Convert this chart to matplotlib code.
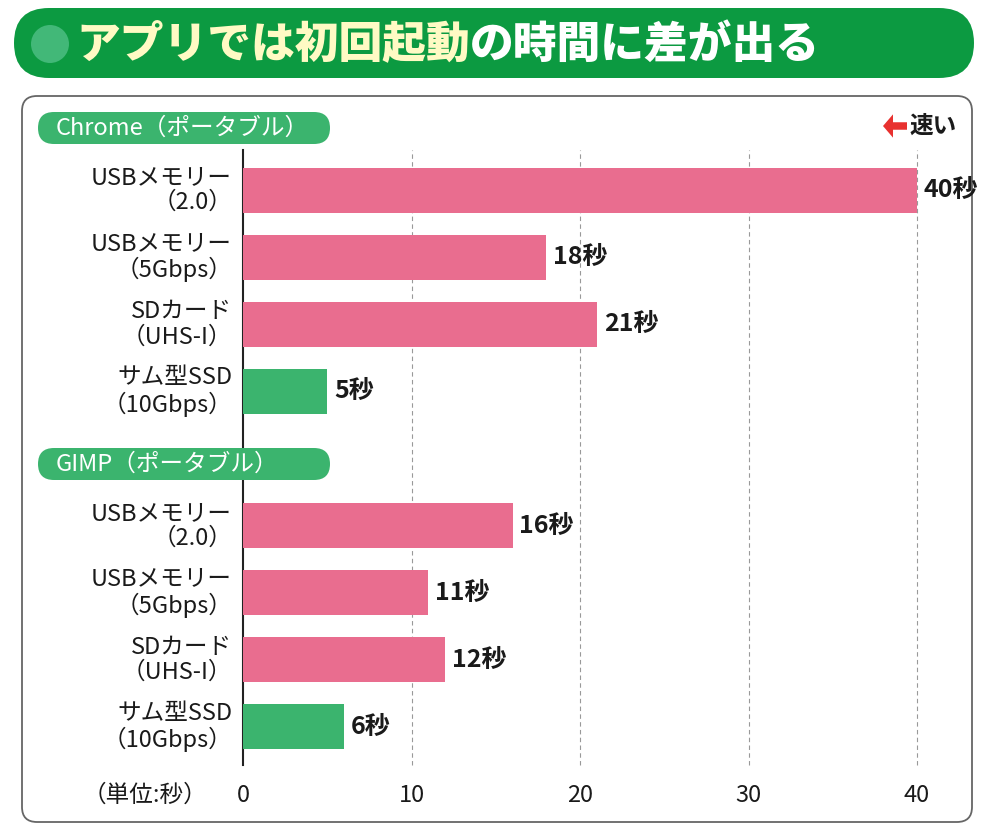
import numpy as np
import matplotlib.pyplot as plt
from matplotlib.patches import FancyBboxPatch, Ellipse, FancyArrow

plt.rcParams['font.family'] = ['Noto Sans CJK JP', 'DejaVu Sans']

# data
groups = ['Chrome（ポータブル）', 'GIMP（ポータブル）']
devices = ['USBメモリー\n（2.0）', 'USBメモリー\n（5Gbps）', 'SDカード\n（UHS-I）', 'サム型SSD\n（10Gbps）']
chrome_sec = [40, 18, 21, 5]
gimp_sec = [16, 11, 12, 6]
ticks = [0, 10, 20, 30, 40]

PINK = '#e96d8f'
GREEN = '#3bb46e'
BANNER = '#0c9a41'
colors = [PINK, PINK, PINK, GREEN]

W, H = 1000, 832
fig = plt.figure(figsize=(W / 100, H / 100), dpi=100)
fig.patch.set_facecolor('white')

def fx(px):
    return px / W

def fy(py):
    return 1 - py / H

# title banner
banner = FancyBboxPatch((fx(14), fy(78)), fx(960), 70 / H,
                        boxstyle='round,pad=0,rounding_size=0.035',
                        transform=fig.transFigure, facecolor=BANNER,
                        edgecolor='none', mutation_aspect=W / H, zorder=-2)
fig.patches.append(banner)
fig.patches.append(Ellipse((fx(50), fy(44)), fx(38), 38 / H, transform=fig.transFigure,
                           facecolor='#42b878', edgecolor='none', zorder=-1))
t1 = fig.text(fx(76), fy(44), 'アプリでは初回起動', color='#fffac4', fontsize=31.5,
              fontweight='heavy', va='center', ha='left')
fig.canvas.draw()
bb = t1.get_window_extent()
fig.text(bb.x1 / W, fy(44), 'の時間に差が出る', color='white', fontsize=31.5,
         fontweight='heavy', va='center', ha='left')

# outer panel
panel = FancyBboxPatch((fx(22), fy(822)), fx(950), 726 / H,
                       boxstyle='round,pad=0,rounding_size=0.015',
                       transform=fig.transFigure, facecolor='white',
                       edgecolor='#666666', linewidth=1.3, mutation_aspect=W / H,
                       zorder=-2)
fig.patches.append(panel)

# axes
ax = fig.add_axes([fx(243), fy(765), fx(917 - 243), (765 - 150) / H])
ax.set_facecolor('none')
vals = chrome_sec + gimp_sec
pos = [0, 1, 2, 3, 5, 6, 7, 8]
ax.barh(pos, vals, height=0.67, color=colors * 2, zorder=3)
for p, v in zip(pos, vals):
    ax.text(v + 0.4, p, f'{v}秒', va='center', ha='left', fontsize=18,
            fontweight='bold', color='#1a1a1a')
for p, lab in zip(pos, devices * 2):
    ax.text(-0.65, p, lab, va='center', ha='right', fontsize=17,
            color='#1a1a1a', linespacing=1.1)

ax.set_xlim(0, 40)
ax.set_ylim(8.57, -0.6)
ax.set_xticks(ticks)
ax.set_xticklabels([str(t) for t in ticks], fontsize=17, color='#1a1a1a')
ax.tick_params(axis='x', length=0, pad=14)
ax.set_yticks([])
for t in ticks[1:]:
    ax.axvline(t, color='#999999', linestyle=(0, (4, 3)), linewidth=0.8,
               zorder=1, clip_on=False)
for s in ['top', 'right', 'bottom']:
    ax.spines[s].set_visible(False)
ax.spines['left'].set_color('#222222')
ax.spines['left'].set_linewidth(1.5)

fig.text(fx(145), fy(795), '（単位:秒）', fontsize=17,
         ha='center', va='center', color='#1a1a1a')

# group pills
for py, g in zip([128, 464], groups):
    pill = FancyBboxPatch((fx(38), fy(py + 16)), fx(292), 32 / H,
                          boxstyle='round,pad=0,rounding_size=0.016',
                          transform=fig.transFigure, facecolor=GREEN,
                          edgecolor='none', mutation_aspect=W / H, zorder=5)
    fig.patches.append(pill)
    fig.text(fx(56), fy(py), g, color='white', fontsize=17,
             ha='left', va='center', zorder=6)

# faster marker
fig.patches.append(FancyArrow(fx(907), fy(126), -fx(24), 0, width=0.009,
                              head_width=0.028, head_length=0.01,
                              length_includes_head=True, transform=fig.transFigure,
                              color='#e8312f', linewidth=0))
fig.text(fx(910), fy(126), '速い', fontsize=17, fontweight='bold', ha='left',
         va='center', color='#1a1a1a')

fig.savefig('out.png', dpi=100, facecolor='white')
